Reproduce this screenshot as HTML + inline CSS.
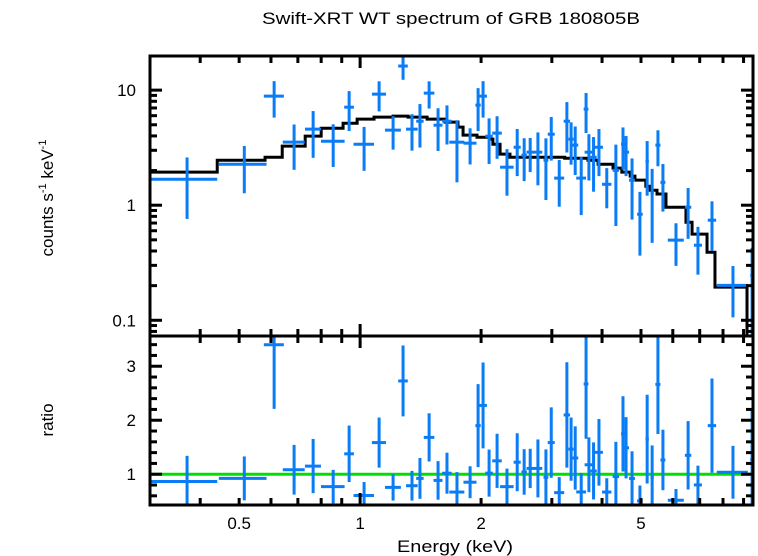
<!DOCTYPE html>
<html><head><meta charset="utf-8"><style>
html,body{margin:0;padding:0;background:#fff;}
svg{display:block;font-family:"Liberation Sans",sans-serif;}
</style></head><body>
<svg id="chart" width="758" height="556" viewBox="0 0 758 556" xmlns="http://www.w3.org/2000/svg">
<text x="451" y="24" font-size="17" text-anchor="middle" textLength="378" lengthAdjust="spacingAndGlyphs">Swift-XRT WT spectrum of GRB 180805B</text>
<text transform="translate(53,198) rotate(-90)" font-size="17" text-anchor="middle">counts s<tspan font-size="11" dy="-7">-1</tspan><tspan dy="7"> keV</tspan><tspan font-size="11" dy="-7">-1</tspan></text>
<text transform="translate(53,420) rotate(-90)" font-size="17" text-anchor="middle">ratio</text>
<text x="455" y="552" font-size="17" text-anchor="middle" textLength="116" lengthAdjust="spacingAndGlyphs">Energy (keV)</text>
<g id="g"></g>
</svg>
<script>
// data: energy centre (keV), half-width (keV), flux, 1-sigma error
const energy = [0.371,0.515,0.611,0.685,0.764,0.857,0.939,1.023,1.115,1.208,1.279,1.346,1.409,1.485,1.563,1.645,1.742,1.878,1.966,2.023,2.094,2.192,2.32,2.46,2.56,2.65,2.77,2.90,2.99,3.13,3.27,3.35,3.43,3.55,3.65,3.71,3.81,3.93,4.11,4.33,4.51,4.59,4.75,4.97,5.18,5.33,5.51,5.67,6.11,6.55,6.93,7.51,8.47,9.45];
const halfWidth = [0.07,0.07,0.035,0.043,0.035,0.058,0.026,0.06,0.045,0.055,0.035,0.045,0.03,0.045,0.04,0.045,0.075,0.07,0.03,0.045,0.045,0.06,0.09,0.05,0.04,0.055,0.07,0.04,0.06,0.09,0.06,0.05,0.06,0.1,0.05,0.09,0.07,0.09,0.11,0.08,0.05,0.08,0.08,0.08,0.05,0.05,0.08,0.08,0.28,0.12,0.16,0.18,0.75,0.1];
const flux = [1.68,2.27,8.87,3.53,4.58,3.60,7.11,3.39,9.23,4.49,16.2,4.58,5.37,9.42,4.96,5.37,3.53,3.46,7.41,8.87,3.98,4.23,2.14,3.19,2.72,2.89,2.89,2.46,4.14,1.72,5.37,3.75,3.33,1.72,6.84,2.89,2.61,3.19,1.52,2.01,3.39,2.89,1.65,0.835,2.41,1.27,3.33,1.58,0.497,0.96,0.449,0.741,0.201,0.246];
const fluxErr = [0.92,1.0,3.1,1.5,2.0,1.45,2.7,1.4,2.7,1.45,3.9,1.6,2.2,2.5,2.0,2.0,1.95,1.2,3.0,3.1,1.7,1.7,0.93,1.4,1.1,0.95,1.4,1.35,1.7,0.75,2.5,1.5,1.5,0.9,2.6,1.25,1.3,1.4,0.58,1.35,1.35,1.1,0.9,0.47,1.2,0.8,1.15,0.7,0.2,0.45,0.2,0.34,0.095,0.18];
// model step function: bin edges (keV) and model values
const modelEdges = [0.300,0.441,0.580,0.640,0.730,0.800,0.907,0.983,1.083,1.208,1.316,1.468,1.627,1.752,1.804,1.954,2.105,2.14,2.23,2.36,3.23,3.69,3.91,4.26,4.48,4.70,4.83,5.14,5.27,5.48,5.77,6.47,6.70,7.30,7.64,9.18];
const modelValues = [1.94,2.46,2.61,3.26,3.98,4.67,5.16,5.60,5.82,5.94,5.82,5.60,5.27,4.77,4.06,3.90,3.75,3.39,2.78,2.61,2.56,2.46,2.27,2.10,1.94,1.79,1.65,1.46,1.35,1.25,0.96,0.711,0.56,0.39,0.194];
const xTickLabels = [0.5,1,2,5];
const topYTickLabels = [0.1,1,10];
const ratioTickLabels = [1,2,3];

const L=150,R=753,T1=56,B1=336,B2=505;
const xMin=0.30,xMax=9.5, yMin=0.073,yMax=19.8, rMin=0.43,rMax=3.56;
const X=e=>L+(Math.log10(e)-Math.log10(xMin))/(Math.log10(xMax)-Math.log10(xMin))*(R-L);
const Y=v=>B1-(Math.log10(v)-Math.log10(yMin))/(Math.log10(yMax)-Math.log10(yMin))*(B1-T1);
const YR=v=>B2-(v-rMin)/(rMax-rMin)*(B2-B1);
const NS='http://www.w3.org/2000/svg';
const g=document.getElementById('g');
function mk(tag,attrs,parent){const el=document.createElementNS(NS,tag);for(const k in attrs)el.setAttribute(k,attrs[k]);(parent||g).appendChild(el);return el;}
const clip=(v,a,b)=>Math.max(a,Math.min(b,v));

// model line
let d='';
modelValues.forEach((v,i)=>{const x0=X(modelEdges[i]),x1=X(modelEdges[i+1]),y=Y(v);d+=(i?'L':'M')+x0+','+y+'L'+x1+','+y;});
d+='L'+X(modelEdges[modelEdges.length-1])+','+B1;
const ml=mk('path',{d:d,fill:'none',stroke:'#000','stroke-width':3});



function modelAt(e){for(let i=0;i<modelValues.length;i++){if(e<modelEdges[i+1])return modelValues[i];}return modelValues[modelValues.length-1];}

// green ratio line
const gl=mk('line',{x1:L,x2:R,y1:YR(1),y2:YR(1),stroke:'#00e000','stroke-width':3});



energy.forEach((e,i)=>{
  const x=X(e),xa=clip(X(e-halfWidth[i]),L,R),xb=clip(X(e+halfWidth[i]),L,R);
  const f=flux[i],s=fluxErr[i];
  const grp=mk('g',{stroke:'#0a7cf5','stroke-width':3});
  
  
  const y=Y(f),ya=clip(Y(f+s),T1,B1),yb=f-s>0?clip(Y(f-s),T1,B1):B1;
  mk('line',{x1:xa,x2:xb,y1:y,y2:y},grp);
  mk('line',{x1:x,x2:x,y1:ya,y2:yb},grp);
  const m=modelAt(e),r=f/m,rs=s/m;
  const grp2=mk('g',{stroke:'#0a7cf5','stroke-width':3});
  
  
  const yr=clip(YR(r),B1,B2);
  mk('line',{x1:xa,x2:xb,y1:yr,y2:yr},grp2);
  mk('line',{x1:x,x2:x,y1:clip(YR(r+rs),B1,B2),y2:clip(YR(r-rs),B1,B2)},grp2);
});

// frames
[[T1,B1,'top-panel-frame'],[B1,B2,'bottom-panel-frame']].forEach(p=>{
  const r=mk('rect',{x:L,y:p[0],width:R-L,height:p[1]-p[0],fill:'none',stroke:'#000','stroke-width':3});
  
  
});
// x ticks
const tk=mk('g',{stroke:'#000','stroke-width':3});


for(let dec=0.1;dec<=1;dec*=10){for(let k=1;k<=9;k++){const e=+(k*dec).toFixed(2);if(e<xMin||e>xMax)continue;const x=X(e),len=(k===1)?12:7;
  [[T1,1],[B1,-1],[B1,1],[B2,-1]].forEach(q=>mk('line',{x1:x,x2:x,y1:q[0],y2:q[0]+q[1]*len},tk));}}
// top y ticks
for(let dec=0.01;dec<=10;dec*=10){for(let k=1;k<=9;k++){const v=k*dec;if(v<yMin||v>yMax)continue;const y=Y(v),len=(k===1)?12:7;
  mk('line',{x1:L,x2:L+len,y1:y,y2:y},tk);mk('line',{x1:R,x2:R-len,y1:y,y2:y},tk);}}
// ratio ticks
for(let v=0.6;v<=3.5;v+=0.2){const vv=+v.toFixed(1);const y=YR(vv),len=(Math.abs(vv-Math.round(vv))<0.01)?12:7;
  mk('line',{x1:L,x2:L+len,y1:y,y2:y},tk);mk('line',{x1:R,x2:R-len,y1:y,y2:y},tk);}
// labels
xTickLabels.forEach(v=>{const t=mk('text',{x:X(v),y:529,'font-size':17,'text-anchor':'middle'});t.textContent=v;
  
  });
topYTickLabels.forEach(v=>{const t=mk('text',{x:136,y:Y(v)+6,'font-size':17,'text-anchor':'end'});t.textContent=v;
  
  });
ratioTickLabels.forEach(v=>{const t=mk('text',{x:136,y:YR(v)+6,'font-size':17,'text-anchor':'end'});t.textContent=v;
  
  });
</script>
</body></html>
